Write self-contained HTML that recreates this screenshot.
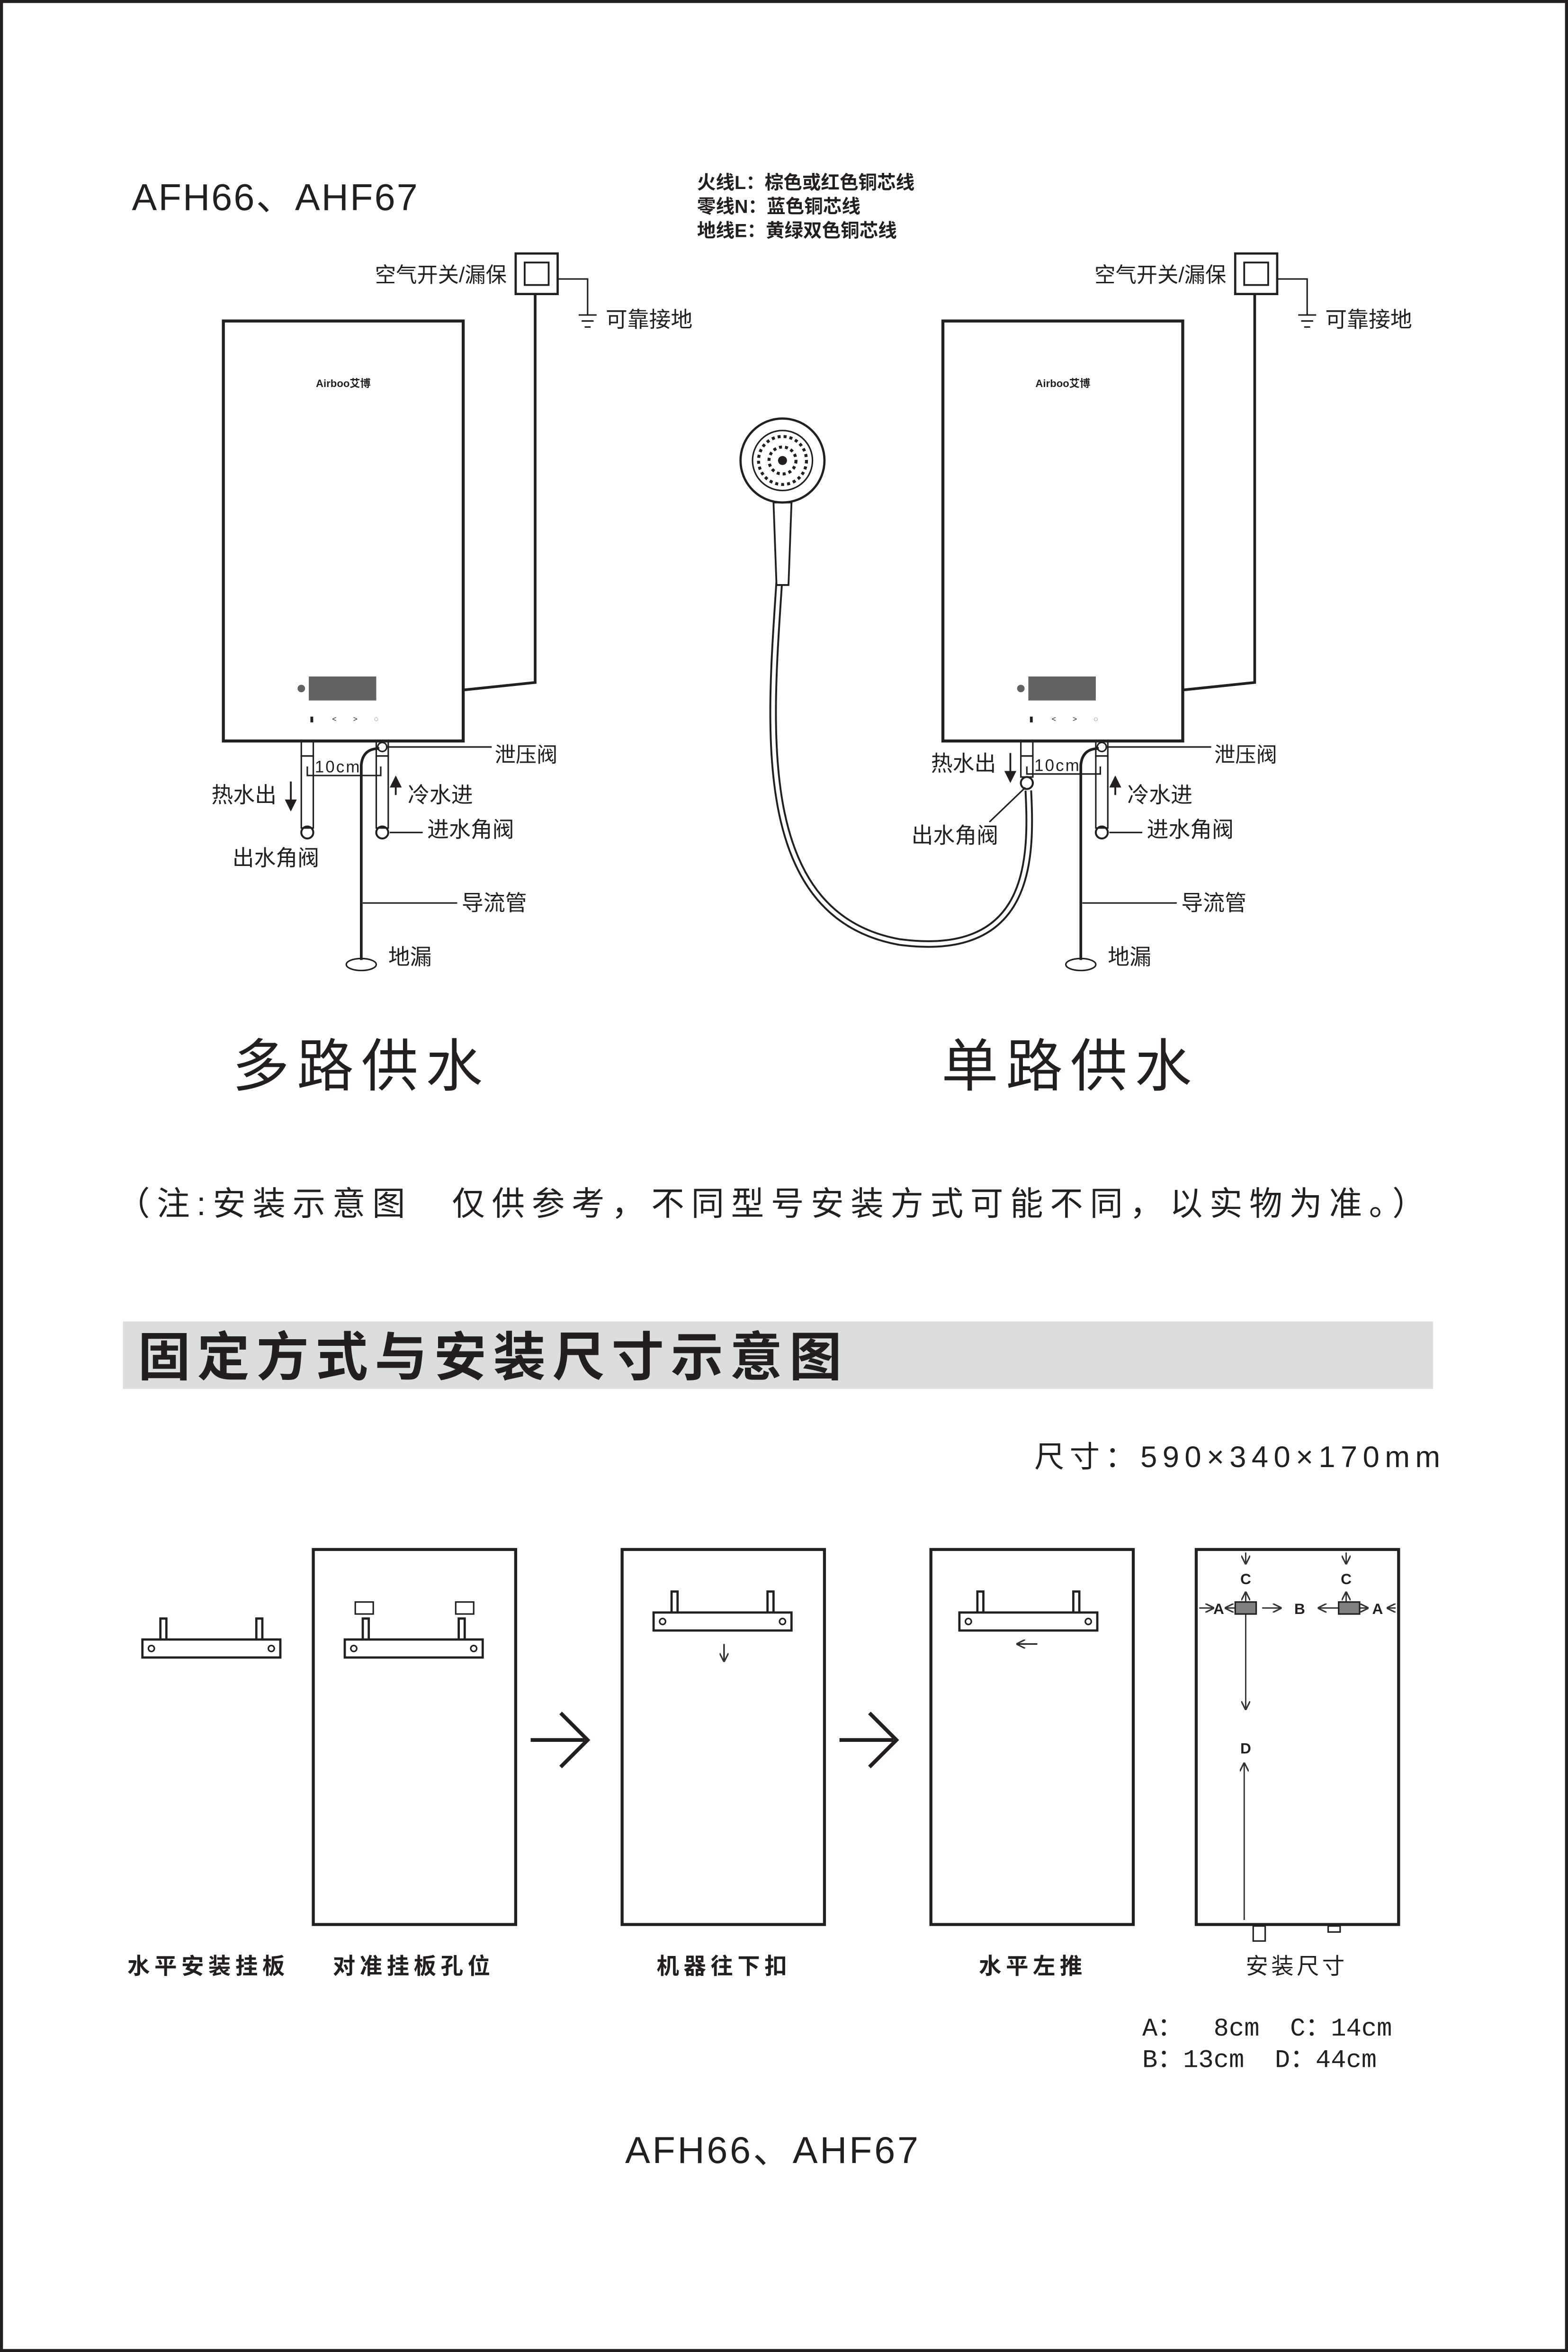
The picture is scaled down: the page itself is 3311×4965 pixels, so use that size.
<!DOCTYPE html>
<html><head><meta charset="utf-8"><style>
html,body{margin:0;padding:0;background:#fff}
svg{display:block;width:3311px;height:4965px}
text{font-family:"Liberation Sans","Noto Sans CJK SC",sans-serif;fill:#231f20}
text.mono{font-family:"Liberation Mono","Noto Sans CJK SC",monospace}
</style></head><body>
<svg viewBox="0 0 1046 1568" preserveAspectRatio="none" xmlns="http://www.w3.org/2000/svg">
<rect x="1" y="1" width="1044" height="1566" fill="none" stroke="#231f20" stroke-width="2"/>
<defs>
<marker id="ah" markerWidth="8" markerHeight="8" refX="7" refY="4" orient="auto" markerUnits="userSpaceOnUse"><path d="M0,0 L8,4 L0,8 z" fill="#231f20"/></marker>
<marker id="sa" markerWidth="6" markerHeight="6" refX="6" refY="3" orient="auto" markerUnits="userSpaceOnUse"><path d="M0,0 L6,3 L0,6" fill="none" stroke="#333" stroke-width="1"/></marker>
<g id="heater">
<rect x="149" y="214" width="160" height="280" fill="none" stroke="#231f20" stroke-width="2"/>
<text x="229" y="258" font-size="7" font-weight="bold" text-anchor="middle">Airboo艾博</text>
<rect x="206" y="451" width="45" height="16" fill="#626262"/>
<circle cx="201" cy="459" r="2.5" fill="#626262"/>
<g font-size="5" text-anchor="middle" fill="#333"><text x="208" y="481">▮</text><text x="223" y="481">&lt;</text><text x="237" y="481">&gt;</text><text x="251" y="481">◌</text></g>
<rect x="344" y="169" width="28" height="27" fill="none" stroke="#231f20" stroke-width="1.5"/>
<rect x="350" y="175" width="16" height="15" fill="none" stroke="#231f20" stroke-width="1.2"/>
<text x="338" y="188" font-size="14" text-anchor="end">空气开关/漏保</text>
<path d="M372,186 H392 V210 M386,210 H398 M388,214 H396 M390,218 H394" fill="none" stroke="#231f20" stroke-width="1"/>
<text x="404" y="218" font-size="14.5">可靠接地</text>
<path d="M357,196 V455 L309,460" fill="none" stroke="#231f20" stroke-width="1.8"/>
<rect x="251" y="494" width="8" height="10" fill="none" stroke="#231f20" stroke-width="1"/>
<circle cx="255" cy="498" r="3" fill="none" stroke="#231f20"/>
<rect x="251" y="504" width="8" height="48" fill="none" stroke="#231f20" stroke-width="1"/>
<circle cx="255" cy="555" r="4" fill="none" stroke="#231f20" stroke-width="1.3"/>
<path d="M259,498 H328" stroke="#231f20" stroke-width="1"/>
<text x="330" y="508" font-size="14">泄压阀</text>
<path d="M260,555 H282" stroke="#231f20" stroke-width="1"/>
<text x="285" y="558" font-size="14.5">进水角阀</text>
<path d="M264,530 V518" stroke="#231f20" stroke-width="1.2" marker-end="url(#ah)"/>
<text x="272" y="535" font-size="14.5">冷水进</text>
<path d="M253,499 Q242,499 241,510 V640" fill="none" stroke="#231f20" stroke-width="1.8"/>
<path d="M242,602 H305" stroke="#231f20" stroke-width="1"/>
<text x="308" y="607" font-size="14.5">导流管</text>
<ellipse cx="241" cy="643" rx="10" ry="4" fill="none" stroke="#231f20"/>
<text x="259" y="643" font-size="14.5">地漏</text>
</g>
</defs>

<text x="88" y="140" font-size="25" letter-spacing="1">AFH66、AHF67</text>
<g font-size="12.5" font-weight="bold"><text x="465" y="126">火线L：棕色或红色铜芯线</text><text x="465" y="142">零线N：蓝色铜芯线</text><text x="465" y="158">地线E：黄绿双色铜芯线</text></g>

<use href="#heater"/>
<rect x="201" y="494" width="8" height="10" fill="none" stroke="#231f20" stroke-width="1"/>
<rect x="201" y="504" width="8" height="48" fill="none" stroke="#231f20" stroke-width="1"/>
<circle cx="205" cy="555" r="4" fill="none" stroke="#231f20" stroke-width="1.3"/>
<path d="M205,511 V517 H254 V511" fill="none" stroke="#231f20" stroke-width="1"/>
<text x="210" y="515" font-size="11" letter-spacing="1">10cm</text>
<path d="M194,521 V540" stroke="#231f20" stroke-width="1.2" marker-end="url(#ah)"/>
<text x="141" y="535" font-size="14.5">热水出</text>
<text x="155" y="577" font-size="14.5">出水角阀</text>
<text x="155" y="724" font-size="38" letter-spacing="5">多路供水</text>

<use href="#heater" transform="translate(480,0)"/>
<rect x="681" y="494" width="8" height="10" fill="none" stroke="#231f20" stroke-width="1"/>
<rect x="681" y="504" width="8" height="14" fill="none" stroke="#231f20" stroke-width="1"/>
<circle cx="685" cy="522" r="4" fill="none" stroke="#231f20" stroke-width="1.3"/>
<path d="M685,511 V516 H734 V511" fill="none" stroke="#231f20" stroke-width="1"/>
<text x="690" y="514" font-size="11" letter-spacing="1">10cm</text>
<path d="M674,502 V521" stroke="#231f20" stroke-width="1.2" marker-end="url(#ah)"/>
<text x="621" y="514" font-size="14.5">热水出</text>
<path d="M660,548 L684,525" stroke="#231f20" stroke-width="1"/>
<text x="608" y="562" font-size="14.5">出水角阀</text>
<text x="628" y="724" font-size="38" letter-spacing="5">单路供水</text>
<path d="M520,385 C514,480 500,610 600,628 C690,640 688,570 686,527" fill="none" stroke="#231f20" stroke-width="5"/>
<path d="M520,385 C514,480 500,610 600,628 C690,640 688,570 686,527" fill="none" stroke="#fff" stroke-width="2.5"/>
<path d="M516,335 L518,390 H526 L528,335 z" fill="#fff" stroke="#231f20" stroke-width="1.2"/>
<circle cx="522" cy="307" r="28" fill="#fff" stroke="#231f20" stroke-width="1.5"/>
<circle cx="522" cy="307" r="20" fill="none" stroke="#231f20" stroke-width="1"/>
<circle cx="522" cy="307" r="16" fill="none" stroke="#231f20" stroke-width="2" stroke-dasharray="2 2"/>
<circle cx="522" cy="307" r="9" fill="none" stroke="#231f20" stroke-width="2" stroke-dasharray="2 2"/>
<circle cx="522" cy="307" r="3" fill="#231f20"/>

<text x="78" y="810" font-size="22" letter-spacing="4.6">（注:安装示意图　仅供参考，不同型号安装方式可能不同，以实物为准。）</text>

<rect x="82" y="881" width="874" height="45" fill="#dcdddd"/>
<text x="92" y="917" font-size="35" font-weight="bold" letter-spacing="4.5">固定方式与安装尺寸示意图</text>
<text x="690" y="978" font-size="20" letter-spacing="3.6">尺寸：590×340×170mm</text>

<defs>
<g id="brk">
<path d="M-34,-12 V-26 H-30 V-12 M30,-12 V-26 H34 V-12" fill="none" stroke="#231f20" stroke-width="1.5"/>
<rect x="-46" y="-12" width="92" height="12" fill="#fff" stroke="#231f20" stroke-width="1.5"/>
<circle cx="-40" cy="-6" r="2" fill="none" stroke="#231f20"/><circle cx="40" cy="-6" r="2" fill="none" stroke="#231f20"/>
</g>
</defs>
<use href="#brk" transform="translate(141,1105)"/>
<rect x="209" y="1033" width="135" height="250" fill="none" stroke="#231f20" stroke-width="2"/>
<rect x="237" y="1068" width="12" height="8" fill="none" stroke="#231f20"/>
<rect x="304" y="1068" width="12" height="8" fill="none" stroke="#231f20"/>
<use href="#brk" transform="translate(276,1105)"/>

<path d="M354,1160 H390 M374,1142 L392,1160 L374,1178" fill="none" stroke="#231f20" stroke-width="2.5"/>

<rect x="415" y="1033" width="135" height="250" fill="none" stroke="#231f20" stroke-width="2"/>
<use href="#brk" transform="translate(482,1087)"/>
<path d="M483,1096 V1108" stroke="#231f20" stroke-width="1" marker-end="url(#sa)"/>

<path d="M560,1160 H596 M580,1142 L598,1160 L580,1178" fill="none" stroke="#231f20" stroke-width="2.5"/>

<rect x="621" y="1033" width="135" height="250" fill="none" stroke="#231f20" stroke-width="2"/>
<use href="#brk" transform="translate(686,1087)"/>
<path d="M692,1096 H678" stroke="#231f20" stroke-width="1" marker-end="url(#sa)"/>

<rect x="798" y="1033" width="135" height="250" fill="none" stroke="#231f20" stroke-width="2"/>
<g stroke="#333" stroke-width="0.9" fill="none">
<path d="M831,1035 V1043" marker-end="url(#sa)"/>
<path d="M898,1035 V1043" marker-end="url(#sa)"/>
<path d="M831,1068 V1061" marker-end="url(#sa)"/>
<path d="M898,1068 V1061" marker-end="url(#sa)"/>
<path d="M800,1072 H810" marker-end="url(#sa)"/>
<path d="M824,1072 H817" marker-end="url(#sa)"/>
<path d="M842,1072 H855" marker-end="url(#sa)"/>
<path d="M893,1072 H879" marker-end="url(#sa)"/>
<path d="M906,1072 H913" marker-end="url(#sa)"/>
<path d="M931,1072 H925" marker-end="url(#sa)"/>
<path d="M831,1076 V1140" marker-end="url(#sa)"/>
<path d="M830,1280 V1175" marker-end="url(#sa)"/>
</g>
<rect x="824" y="1068" width="14" height="8" fill="#808080" stroke="#231f20"/>
<rect x="893" y="1068" width="14" height="8" fill="#808080" stroke="#231f20"/>
<g font-size="10" font-weight="bold" text-anchor="middle"><text x="831" y="1056">C</text><text x="898" y="1056">C</text><text x="813" y="1076">A</text><text x="867" y="1076">B</text><text x="919" y="1076">A</text><text x="831" y="1169">D</text></g>
<rect x="836" y="1284" width="8" height="10" fill="none" stroke="#231f20"/>
<rect x="886" y="1284" width="8" height="4" fill="none" stroke="#231f20"/>

<g font-size="15" font-weight="bold" letter-spacing="3"><text x="85" y="1316">水平安装挂板</text><text x="222" y="1316">对准挂板孔位</text><text x="438" y="1316">机器往下扣</text><text x="653" y="1316">水平左推</text></g>
<text x="831" y="1316" font-size="15" letter-spacing="2">安装尺寸</text>
<text class="mono" x="762" y="1357" font-size="17" xml:space="preserve">A：  8cm  C：14cm</text>
<text class="mono" x="762" y="1378" font-size="17" xml:space="preserve">B：13cm  D：44cm</text>
<text x="417" y="1442" font-size="25" letter-spacing="1.5">AFH66、AHF67</text>
</svg>
</body></html>
